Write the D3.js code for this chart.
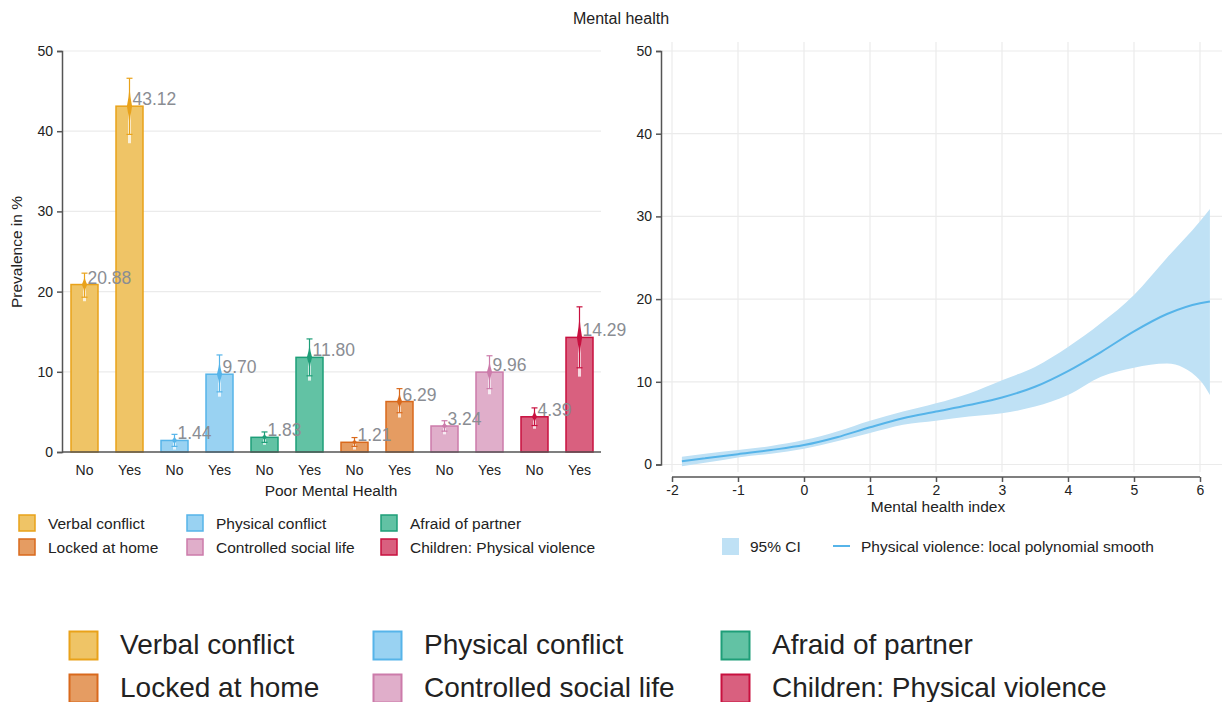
<!DOCTYPE html>
<html>
<head>
<meta charset="utf-8">
<script src="https://cdn.jsdelivr.net/npm/d3@7"></script>
<style>
  body { margin: 0; background: #fff; }
  svg { font-family: "Liberation Sans", Arial, sans-serif; display: block; }
</style>
</head>
<body>
<svg id="chart" width="1222" height="702"></svg>
<script>
// ---- data ----
const categories = ["Verbal conflict", "Physical conflict", "Afraid of partner",
                    "Locked at home", "Controlled social life", "Children: Physical violence"];
const groups = ["No", "Yes"];
const noValues  = [20.88, 1.44, 1.83, 1.21, 3.24, 4.39];
const yesValues = [43.12, 9.70, 11.80, 6.29, 9.96, 14.29];
// 95% CI (lo, hi) and wider band (lo, hi)
const noCI   = [[19.3, 22.3], [0.7, 2.2], [1.2, 2.5], [0.7, 1.8], [2.6, 3.9], [3.3, 5.5]];
const yesCI  = [[39.6, 46.6], [7.5, 12.1], [9.5, 14.1], [4.9, 7.9], [7.9, 12.0], [10.5, 18.1]];
const noOuter  = [[18.8, 22.8], [0.3, 2.6], [0.9, 2.8], [0.3, 2.4], [2.2, 4.3], [2.9, 6.0]];
const yesOuter = [[38.5, 47.6], [6.9, 12.6], [8.9, 14.7], [4.3, 8.4], [7.2, 12.6], [9.4, 19.4]];
const yTicks = [0, 10, 20, 30, 40, 50];

// smooth (right panel)
const mhIndex  = [-1.85, -1.5, -1, -0.5, 0, 0.5, 1, 1.5, 2, 2.5, 3, 3.5, 4, 4.5, 5, 5.5, 6, 6.15];
const smoothFit = [0.4, 0.75, 1.25, 1.75, 2.35, 3.3, 4.5, 5.6, 6.4, 7.2, 8.1, 9.4, 11.3, 13.6, 16.1, 18.2, 19.5, 19.7];
const smoothLo  = [-0.2, 0.2, 0.85, 1.3, 1.9, 2.8, 3.8, 4.8, 5.3, 5.8, 6.2, 7.0, 8.4, 10.6, 11.7, 12.2, 10.2, 8.4];
const smoothHi  = [0.95, 1.3, 1.75, 2.25, 2.95, 4.0, 5.3, 6.4, 7.4, 8.6, 10.2, 11.8, 14.2, 17.1, 20.5, 25.0, 29.4, 30.9];
const xTicksR = [-2, -1, 0, 1, 2, 3, 4, 5, 6];

const strokeColors = ["#E9A21A", "#56B4E9", "#1E9E78", "#D9691C", "#CC7BAA", "#C8103F"];
const fillColors   = ["#EFC466", "#99D2F2", "#62C2A4", "#E59C62", "#E0AECA", "#D9607F"];

const svg = d3.select("#chart");
svg.append("rect").attr("width", 1222).attr("height", 702).attr("fill", "#fff");

svg.append("text").attr("x", 621).attr("y", 24).attr("text-anchor", "middle")
  .attr("font-size", 16).attr("fill", "#222").text("Mental health");

// ---- left panel ----
const yL = d3.scaleLinear().domain([0, 50]).range([452, 51]);
const x0 = d3.scaleBand().domain(categories).range([62, 602]);
const x1 = d3.scalePoint().domain(groups).range([0, x0.bandwidth()]).padding(0.5);
const barW = 27;

const left = svg.append("g");
left.selectAll("line.grid").data(yTicks.filter(d => d > 0)).enter().append("line")
  .attr("x1", 62).attr("x2", 601).attr("y1", d => yL(d)).attr("y2", d => yL(d))
  .attr("stroke", "#ebebeb").attr("stroke-width", 1.2);

const yAxisL = left.append("g").attr("transform", "translate(62,0)")
  .call(d3.axisLeft(yL).tickValues(yTicks).tickSize(5).tickPadding(4));
yAxisL.select(".domain").attr("stroke", "#555").attr("stroke-width", 1.5);
yAxisL.selectAll(".tick line").attr("stroke", "#555").attr("stroke-width", 1.5);
yAxisL.selectAll("text").attr("font-size", 14).attr("fill", "#222").attr("font-family", "Liberation Sans, Arial, sans-serif");

left.append("text").attr("transform", "translate(22,252) rotate(-90)")
  .attr("text-anchor", "middle").attr("font-size", 15.5).attr("fill", "#222").text("Prevalence in %");

// bars
const bars = [];
categories.forEach((c, i) => {
  bars.push({ cat: c, i, g: "No", v: noValues[i], ci: noCI[i], outer: noOuter[i] });
  bars.push({ cat: c, i, g: "Yes", v: yesValues[i], ci: yesCI[i], outer: yesOuter[i] });
});
const cx = d => x0(d.cat) + x1(d.g);

left.selectAll("rect.bar").data(bars).enter().append("rect")
  .attr("x", d => cx(d) - barW / 2).attr("width", barW)
  .attr("y", d => yL(d.v)).attr("height", d => yL(0) - yL(d.v))
  .attr("fill", d => fillColors[d.i]).attr("stroke", d => strokeColors[d.i]).attr("stroke-width", 1.5);

// x axis baseline
left.append("line").attr("x1", 62).attr("x2", 601).attr("y1", yL(0)).attr("y2", yL(0))
  .attr("stroke", "#555").attr("stroke-width", 1.5);

// CI glyphs
const ci = left.selectAll("g.ci").data(bars).enter().append("g");
ci.append("line").attr("x1", cx).attr("x2", cx)
  .attr("y1", d => yL(d.outer[0])).attr("y2", d => yL(d.outer[1]))
  .attr("stroke", "#fff").attr("stroke-opacity", 0.75).attr("stroke-width", 3);
ci.append("line").attr("x1", cx).attr("x2", cx)
  .attr("y1", d => yL(d.ci[0])).attr("y2", d => yL(d.ci[1]))
  .attr("stroke", d => strokeColors[d.i]).attr("stroke-width", 1.2);
ci.selectAll("line.cap").data(d => [d.ci[0], d.ci[1]].map(v => ({ v, d }))).enter().append("line")
  .attr("x1", e => cx(e.d) - 3).attr("x2", e => cx(e.d) + 3)
  .attr("y1", e => yL(e.v)).attr("y2", e => yL(e.v))
  .attr("stroke", e => strokeColors[e.d.i]).attr("stroke-width", 1.2);
ci.append("path")
  .attr("d", d => {
    const c = cx(d), lo = yL(d.ci[0]), hi = yL(d.ci[1]), m = yL(d.v);
    const lo2 = m + (lo - m) * 0.7, hi2 = m + (hi - m) * 0.7;
    return `M${c},${hi2} Q${c + 0.6},${(hi2 + m) / 2} ${c + 2.6},${m} Q${c + 0.6},${(lo2 + m) / 2} ${c},${lo2} ` +
           `Q${c - 0.6},${(lo2 + m) / 2} ${c - 2.6},${m} Q${c - 0.6},${(hi2 + m) / 2} ${c},${hi2} Z`;
  })
  .attr("fill", d => strokeColors[d.i]);

left.selectAll("text.val").data(bars).enter().append("text")
  .attr("x", d => cx(d) + 3).attr("y", d => yL(d.v) - 1)
  .attr("font-size", 17.5).attr("fill", "#8a8d93").text(d => d.v.toFixed(2));

left.selectAll("text.grp").data(bars).enter().append("text")
  .attr("x", cx).attr("y", 475).attr("text-anchor", "middle")
  .attr("font-size", 14).attr("fill", "#222").text(d => d.g);

left.append("text").attr("x", 331).attr("y", 496).attr("text-anchor", "middle")
  .attr("font-size", 15.5).attr("fill", "#222").text("Poor Mental Health");

// small legend
const legCols = [18, 186, 380];
categories.forEach((c, i) => {
  const gx = legCols[i % 3], gy = 514 + Math.floor(i / 3) * 24;
  svg.append("rect").attr("x", gx + 1).attr("y", gy + 1).attr("width", 16).attr("height", 16)
    .attr("fill", fillColors[i]).attr("stroke", strokeColors[i]).attr("stroke-width", 1.5);
  svg.append("text").attr("x", gx + 30).attr("y", gy + 14.5).attr("font-size", 15.5)
    .attr("fill", "#222").text(c);
});

// ---- right panel ----
const xR = d3.scaleLinear().domain([-2, 6]).range([672, 1200]);
const yR = d3.scaleLinear().domain([0, 50]).range([464.5, 51]);
const right = svg.append("g");

right.selectAll("line.vg").data(xTicksR).enter().append("line")
  .attr("x1", d => xR(d)).attr("x2", d => xR(d)).attr("y1", 42).attr("y2", 472)
  .attr("stroke", "#ebebeb").attr("stroke-width", 1.2);
right.selectAll("line.hg").data(yTicks).enter().append("line")
  .attr("x1", 662).attr("x2", 1222).attr("y1", d => yR(d)).attr("y2", d => yR(d))
  .attr("stroke", "#ebebeb").attr("stroke-width", 1.2);

const pts = mhIndex.map((x, k) => ({ x, y: smoothFit[k], lo: smoothLo[k], hi: smoothHi[k] }));
right.append("path").datum(pts)
  .attr("d", d3.area().x(d => xR(d.x)).y0(d => yR(d.lo)).y1(d => yR(d.hi)).curve(d3.curveMonotoneX))
  .attr("fill", "#bfe1f5");
right.append("path").datum(pts)
  .attr("d", d3.line().x(d => xR(d.x)).y(d => yR(d.y)).curve(d3.curveMonotoneX))
  .attr("fill", "none").attr("stroke", "#56B4E9").attr("stroke-width", 2);

const yAxisR = right.append("g").attr("transform", "translate(661,0)")
  .call(d3.axisLeft(yR).tickValues(yTicks).tickSize(5).tickPadding(4));
const xAxisR = right.append("g").attr("transform", "translate(0,477)")
  .call(d3.axisBottom(xR).tickValues(xTicksR).tickFormat(d => String(d))
    .tickSize(5).tickPadding(3).tickSizeOuter(0));
[yAxisR, xAxisR].forEach(a => {
  a.select(".domain").attr("stroke", "#555").attr("stroke-width", 1.5);
  a.selectAll(".tick line").attr("stroke", "#555").attr("stroke-width", 1.5);
  a.selectAll("text").attr("font-size", 14).attr("fill", "#222").attr("font-family", "Liberation Sans, Arial, sans-serif");
});
xAxisR.select(".domain").attr("d", "M672,0H1200");

right.append("text").attr("x", 938).attr("y", 512).attr("text-anchor", "middle")
  .attr("font-size", 15.5).attr("fill", "#222").text("Mental health index");

right.append("rect").attr("x", 722).attr("y", 538).attr("width", 17).attr("height", 17).attr("fill", "#bfe1f5");
right.append("text").attr("x", 750).attr("y", 551.5).attr("font-size", 15.5).attr("fill", "#222").text("95% CI");
right.append("line").attr("x1", 833).attr("x2", 850).attr("y1", 546).attr("y2", 546)
  .attr("stroke", "#56B4E9").attr("stroke-width", 2);
right.append("text").attr("x", 861).attr("y", 551.5).attr("font-size", 15.5).attr("fill", "#222")
  .text("Physical violence: local polynomial smooth");

// ---- big legend ----
const bigCols = [68, 372, 720];
categories.forEach((c, i) => {
  const gx = bigCols[i % 3], gy = 630 + Math.floor(i / 3) * 43;
  svg.append("rect").attr("x", gx + 1.5).attr("y", gy + 1.5).attr("width", 28).attr("height", 28)
    .attr("fill", fillColors[i]).attr("stroke", strokeColors[i]).attr("stroke-width", 2);
  svg.append("text").attr("x", gx + 52).attr("y", gy + 24).attr("font-size", 28)
    .attr("fill", "#222").text(c);
});
</script>
</body>
</html>
